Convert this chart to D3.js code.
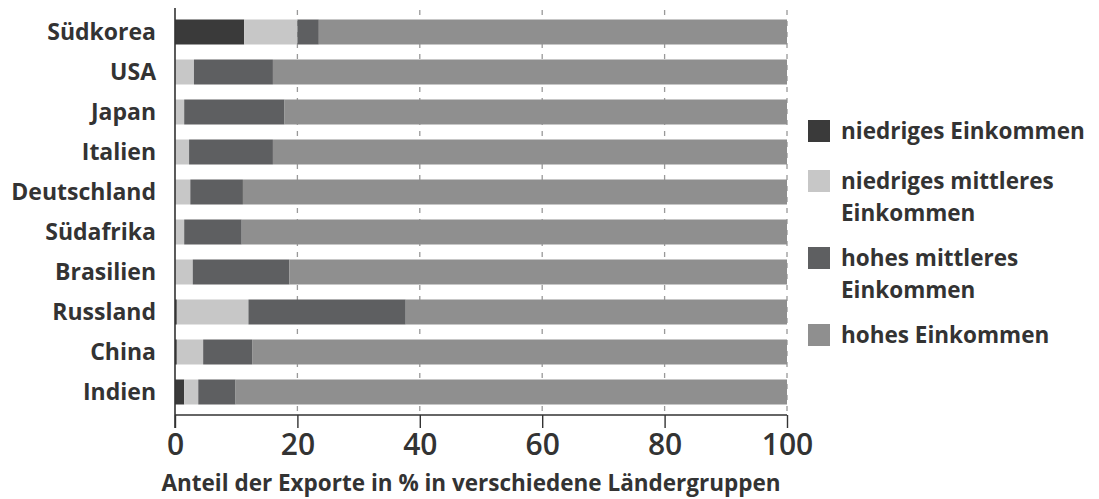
<!DOCTYPE html>
<html>
<head>
<meta charset="utf-8">
<script src="https://cdn.jsdelivr.net/npm/d3@7"></script>
<style>
  body { margin: 0; background: #fff; }
  text { font-family: "Open Sans", "Noto Sans", sans-serif; font-weight: 700; fill: #333; }
</style>
</head>
<body>
<div id="wrapper"></div>
<script>
// data
const countries = ["Südkorea", "USA", "Japan", "Italien", "Deutschland", "Südafrika", "Brasilien", "Russland", "China", "Indien"]
const seriesNames = ["niedriges Einkommen", "niedriges mittleres Einkommen", "hohes mittleres Einkommen", "hohes Einkommen"]
const legendLines = [["niedriges Einkommen"], ["niedriges mittleres", "Einkommen"], ["hohes mittleres", "Einkommen"], ["hohes Einkommen"]]
const lowIncome     = [11.3, 0,    0,    0,    0,    0,    0,    0.3,  0.3,  1.5]
const lowMidIncome  = [8.7,  3.1,  1.5,  2.3,  2.5,  1.5,  2.9,  11.7, 4.3,  2.3]
const highMidIncome = [3.5,  12.9, 16.4, 13.7, 8.6,  9.4,  15.8, 25.7, 8.0,  6.1]
const highIncome    = [76.5, 84.0, 82.1, 84.0, 88.9, 89.1, 81.3, 62.3, 87.4, 90.1]
const xTicks = [0, 20, 40, 60, 80, 100]
const colors = ["#3a3a3a", "#c7c7c7", "#5e5f61", "#8f8f8f"]

const dataset = countries.map((c, i) => ({
  country: c,
  [seriesNames[0]]: lowIncome[i],
  [seriesNames[1]]: lowMidIncome[i],
  [seriesNames[2]]: highMidIncome[i],
  [seriesNames[3]]: highIncome[i],
}))

const dimensions = {
  width: 1099,
  height: 499,
  margin: { top: 12, right: 312, bottom: 84, left: 175 },
}
dimensions.boundedWidth = dimensions.width - dimensions.margin.left - dimensions.margin.right
dimensions.boundedHeight = dimensions.height - dimensions.margin.top - dimensions.margin.bottom

const wrapper = d3.select("#wrapper")
  .append("svg")
    .attr("width", dimensions.width)
    .attr("height", dimensions.height)

const bounds = wrapper.append("g")
  .attr("transform", `translate(${dimensions.margin.left}, ${dimensions.margin.top})`)

// scales
const xScale = d3.scaleLinear()
  .domain([0, 100])
  .range([0, dimensions.boundedWidth])

const yScale = d3.scaleBand()
  .domain(countries)
  .range([0, 400])
  .paddingInner(0.375)
  .paddingOuter(0.1875)

const stack = d3.stack().keys(seriesNames)
const series = stack(dataset)

// gridlines
bounds.selectAll(".grid")
  .data(xTicks.slice(1))
  .enter().append("line")
    .attr("class", "grid")
    .attr("x1", d => xScale(d))
    .attr("x2", d => xScale(d))
    .attr("y1", -2)
    .attr("y2", dimensions.boundedHeight)
    .attr("stroke", "#999")
    .attr("stroke-width", 1.3)
    .attr("stroke-dasharray", "5,6")

// bars
bounds.selectAll(".series")
  .data(series)
  .enter().append("g")
    .attr("class", "series")
    .attr("fill", (d, i) => colors[i])
  .selectAll("rect")
  .data(d => d)
  .enter().append("rect")
    .attr("x", d => xScale(d[0]))
    .attr("width", d => xScale(d[1]) - xScale(d[0]))
    .attr("y", d => yScale(d.data.country))
    .attr("height", yScale.bandwidth())

// axes
const xAxisGenerator = d3.axisBottom(xScale)
  .tickValues(xTicks)
  .tickSize(13)
  .tickPadding(6)

const xAxis = bounds.append("g")
  .attr("transform", `translate(0, ${dimensions.boundedHeight})`)
  .call(xAxisGenerator)
xAxis.select(".domain").attr("stroke", "#333").attr("stroke-width", 1.6).attr("d", `M0,0H${dimensions.boundedWidth}`)
xAxis.selectAll(".tick line").attr("stroke", "#333").attr("stroke-width", 1.4)
xAxis.selectAll(".tick text")
  .attr("font-size", 30)
  .style("font-family", "'Open Sans', sans-serif")
  .style("font-weight", 600)
  .attr("fill", "#333")

bounds.append("line")
  .attr("x1", 0).attr("x2", 0)
  .attr("y1", -4).attr("y2", dimensions.boundedHeight + 13)
  .attr("stroke", "#333")
  .attr("stroke-width", 1.6)

bounds.append("text")
  .attr("x", dimensions.boundedWidth / 2 - 10)
  .attr("y", dimensions.boundedHeight + 76)
  .attr("text-anchor", "middle")
  .attr("font-size", 22.5)
  .text("Anteil der Exporte in % in verschiedene Ländergruppen")

// country labels
bounds.selectAll(".label")
  .data(countries)
  .enter().append("text")
    .attr("class", "label")
    .attr("x", -19)
    .attr("y", d => yScale(d) + yScale.bandwidth() / 2)
    .attr("dy", "0.35em")
    .attr("text-anchor", "end")
    .attr("font-size", 23)
    .text(d => d)

// legend
const legendY = [131, 197, 274, 335]
const legend = wrapper.append("g")
  .attr("transform", "translate(808, 0)")
const items = legend.selectAll(".legend-item")
  .data(legendLines)
  .enter().append("g")
    .attr("class", "legend-item")
    .attr("transform", (d, i) => `translate(0, ${legendY[i]})`)
items.append("rect")
  .attr("x", 0)
  .attr("y", d => -11 - (d.length - 1) * 16)
  .attr("width", 22)
  .attr("height", 22)
  .attr("fill", (d, i) => colors[i])
items.selectAll("text")
  .data(d => d.map((t, j) => ({ t, j, n: d.length })))
  .enter().append("text")
    .attr("x", 33)
    .attr("y", d => (d.j - (d.n - 1) / 2) * 32)
    .attr("dy", "0.35em")
    .attr("font-size", 22.5)
    .text(d => d.t)
</script>
</body>
</html>
